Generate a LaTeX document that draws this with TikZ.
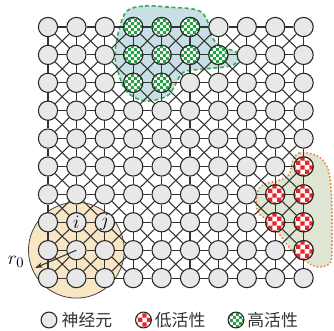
\documentclass[tikz,border=0pt]{standalone}
\usepackage{fontspec}
\newfontfamily\cjk{Noto Sans CJK SC}
\usetikzlibrary{arrows.meta,positioning,patterns.meta}
\definecolor{nodegray}{RGB}{232,232,232}
\definecolor{lowred}{RGB}{232,38,42}
\definecolor{highgreen}{RGB}{40,160,70}
\definecolor{hiblue}{RGB}{200,223,229}
\definecolor{lowsage}{RGB}{222,229,210}
\definecolor{lowborder}{RGB}{238,125,59}
\definecolor{hiborder}{RGB}{58,170,78}
\definecolor{rangetan}{RGB}{248,230,196}
\tikzdeclarepattern{
  name=redcheck,
  type=uncolored,
  bounding box={(0pt,0pt) and (7pt,7pt)},
  tile size={(7pt,7pt)},
  code={
    \fill (0pt,0pt) rectangle (3.5pt,3.5pt);
    \fill (3.5pt,3.5pt) rectangle (7pt,7pt);
  }
}
\tikzdeclarepattern{
  name=greencheck,
  type=uncolored,
  bounding box={(0pt,0pt) and (4.4pt,4.4pt)},
  tile size={(4.4pt,4.4pt)},
  code={
    \fill (0pt,0pt) rectangle (2.2pt,2.2pt);
    \fill (2.2pt,2.2pt) rectangle (4.4pt,4.4pt);
  }
}

\begin{document}
\begin{tikzpicture}[x=0.0265cm,y=0.0265cm,
    cell/.style={circle,draw=black!85,line width=0.8pt,minimum size=0.51cm,inner sep=0pt},
    neuron/.style={cell,fill=nodegray},
    lowact/.style={cell,preaction={fill=white},pattern=redcheck,pattern color=lowred},
    highact/.style={cell,preaction={fill=white},pattern=greencheck,pattern color=highgreen},
    link/.style={line width=0.8pt,black!80},
    legtext/.style={font=\cjk\fontsize{12.7pt}{14pt}\selectfont,inner sep=2pt,text=black!80}]
  \useasboundingbox (0,0) rectangle (334,331);
  % neighbourhood of radius r_0, round neuron (2,9)
  \coordinate (rc) at (76.4,80.8);
  \draw[draw=black!75,line width=0.6pt,fill=rangetan] (rc) circle[radius=1.27cm];
  % high activity area
  \draw[hiborder,fill=hiblue,line width=1.2pt,dash pattern=on 3pt off 2pt]
    plot[smooth cycle,tension=0.6] coordinates {(127,320) (145,325) (167,324) (197,321) (207,311)
    (211,296) (220,285) (236,279) (238,271) (230,265) (205,262) (184,259) (175,246) (167,235)
    (145,230) (127,239) (119,256) (115,276) (119,301)};
  % low activity area
  \draw[lowborder,fill=lowsage,line width=1.5pt,line cap=round,dash pattern=on 0.1pt off 2.6pt]
    plot[smooth cycle,tension=0.6] coordinates {(293,171) (300,178) (315,176) (325,168) (330,153)
    (332,121) (332,86) (330,68) (317,64) (307,69) (293,79) (280,96) (270,109) (258,119)
    (257,136) (263,146) (287,154)};
  % 10 x 10 lattice of neurons
  \foreach \i in {1,...,10}
    \foreach \j in {1,...,10}
      \node[neuron] (n-\i-\j) at ({48+28.4*(\i-1)},{304-27.9*(\j-1)}) {};
  % high activity (top) and low activity (right)
  \foreach \i/\j in {4/1,5/1,6/1,4/2,5/2,6/2,7/2,4/3,5/3}
    \node[highact] (n-\i-\j) at (n-\i-\j) {};
  \foreach \i/\j in {10/6,9/7,10/7,9/8,10/8,10/9}
    \node[lowact] (n-\i-\j) at (n-\i-\j) {};
  % neurons i and j
  \node[neuron,font=\Large] (n-2-8) at (n-2-8) {$i$};
  \node[neuron,font=\Large] (n-3-8) at (n-3-8) {$j$};
  % links: vertical and horizontal
  \foreach \i in {1,...,10}
    \foreach \j/\k in {1/2,2/3,3/4,4/5,5/6,6/7,7/8,8/9,9/10} {
      \draw[link] (n-\i-\j) -- (n-\i-\k);
      \draw[link] (n-\j-\i) -- (n-\k-\i);
    }
  % links: diagonal
  \foreach \i/\k in {1/2,2/3,3/4,4/5,5/6,6/7,7/8,8/9,9/10}
    \foreach \j/\m in {1/2,2/3,3/4,4/5,5/6,6/7,7/8,8/9,9/10} {
      \draw[link] (n-\i-\j) -- (n-\k-\m);
      \draw[link] (n-\k-\j) -- (n-\i-\m);
    }
  % radius arrow
  \coordinate (redge) at (35,63);
  \draw[link,-{Stealth[length=6pt,width=4pt]}] (n-2-9.center) -- (redge);
  \node[font=\fontsize{15}{17}\selectfont] (r0) at (16,69) {$r_0$};
  % legend
  \node[neuron,minimum size=0.42cm] (leg-n) at (49,11) {};
  \node[legtext,right=1pt of leg-n] (leg-nt) {神经元};
  \node[lowact,minimum size=0.42cm] (leg-lo) at (143.5,11) {};
  \node[legtext,right=0pt of leg-lo] (leg-lot) {低活性};
  \node[highact,minimum size=0.42cm] (leg-hi) at (236,11) {};
  \node[legtext,right=0pt of leg-hi] (leg-hit) {高活性};
\end{tikzpicture}
\end{document}
